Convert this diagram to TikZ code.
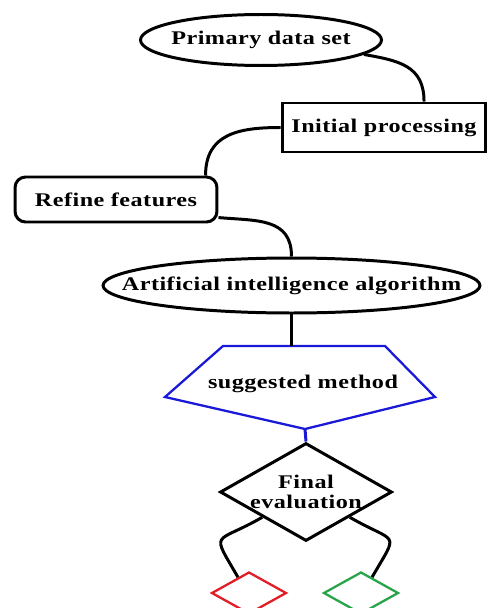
\documentclass[tikz,border=0pt]{standalone}
\usepackage{fontspec}
\setmainfont{Liberation Serif}[FakeStretch=1.25, LetterSpace=2.5]
\usepackage{xcolor}
\usetikzlibrary{shapes.geometric}

\definecolor{penblue}{RGB}{25,25,215}
\definecolor{boxred}{RGB}{225,30,40}
\definecolor{boxgreen}{RGB}{40,165,75}

\begin{document}
\begin{tikzpicture}[x=0.02cm, y=-0.02cm,
    every node/.style={font=\bfseries\fontsize{11}{11.5}\selectfont},
    link/.style={line width=1.7pt},
    frame/.style={draw, line width=1.7pt, fill=white}]
    \useasboundingbox (0,0) rectangle (488,608);
    % main chain of steps
    \node[frame, ellipse, inner xsep=-8pt, minimum width=4.82cm, minimum height=1.02cm] (pds) at (261,40) {Primary data set};
    \node[frame, rectangle, minimum width=4.08cm, minimum height=0.98cm] (ip) at (384,127.5) {Initial processing};
    \node[frame, rectangle, rounded corners=6pt, minimum width=4.04cm, minimum height=0.9cm] (refine) at (116,199.5) {Refine features};
    \node[frame, ellipse, inner xsep=-25pt, minimum width=7.54cm, minimum height=1.1cm] (ai) at (291.5,285.5) {Artificial intelligence algorithm};
    % the pentagon
    \coordinate (p1) at (223,346);
    \coordinate (p2) at (385,346);
    \coordinate (p3) at (435,397);
    \coordinate (p4) at (305,429);
    \coordinate (p5) at (165,397);
    \draw[penblue, line width=1.3pt] (p1) -- (p2) -- (p3) -- (p4) -- (p5) -- cycle;
    \node (sm) at (303,384) {suggested method};
    \node[frame, diamond, shape aspect=1.75, inner sep=-4pt, align=center, minimum width=3.44cm, minimum height=1.96cm] (fe) at (306,492) {Final\\evaluation};
    \node[draw=boxred, line width=1.3pt, diamond, inner sep=0pt, minimum width=1.5cm, minimum height=0.84cm] (red) at (249,593) {};
    \node[draw=boxgreen, line width=1.3pt, diamond, inner sep=0pt, minimum width=1.5cm, minimum height=0.84cm] (green) at (361,593) {};
    % connectors
    \draw[link] (pds.-8) to[out=-10, in=90, looseness=1.2] (ip.33);
    \draw[link] (ip.west) to[out=180, in=90, looseness=1.2] (refine.15);
    \draw[link] (refine.-10) to[out=-5, in=90, looseness=1.2] (ai.north);
    \draw[link] (ai.south) -- (ai.south |- p1);
    \draw[penblue, line width=1.7pt] (p4) -- (fe.north);
    \draw[link] (fe.south west) to[out=210, in=120, looseness=2.2] (red.125);
    \draw[link] (fe.south east) to[out=-30, in=60, looseness=2.2] (green.55);
\end{tikzpicture}
\end{document}
